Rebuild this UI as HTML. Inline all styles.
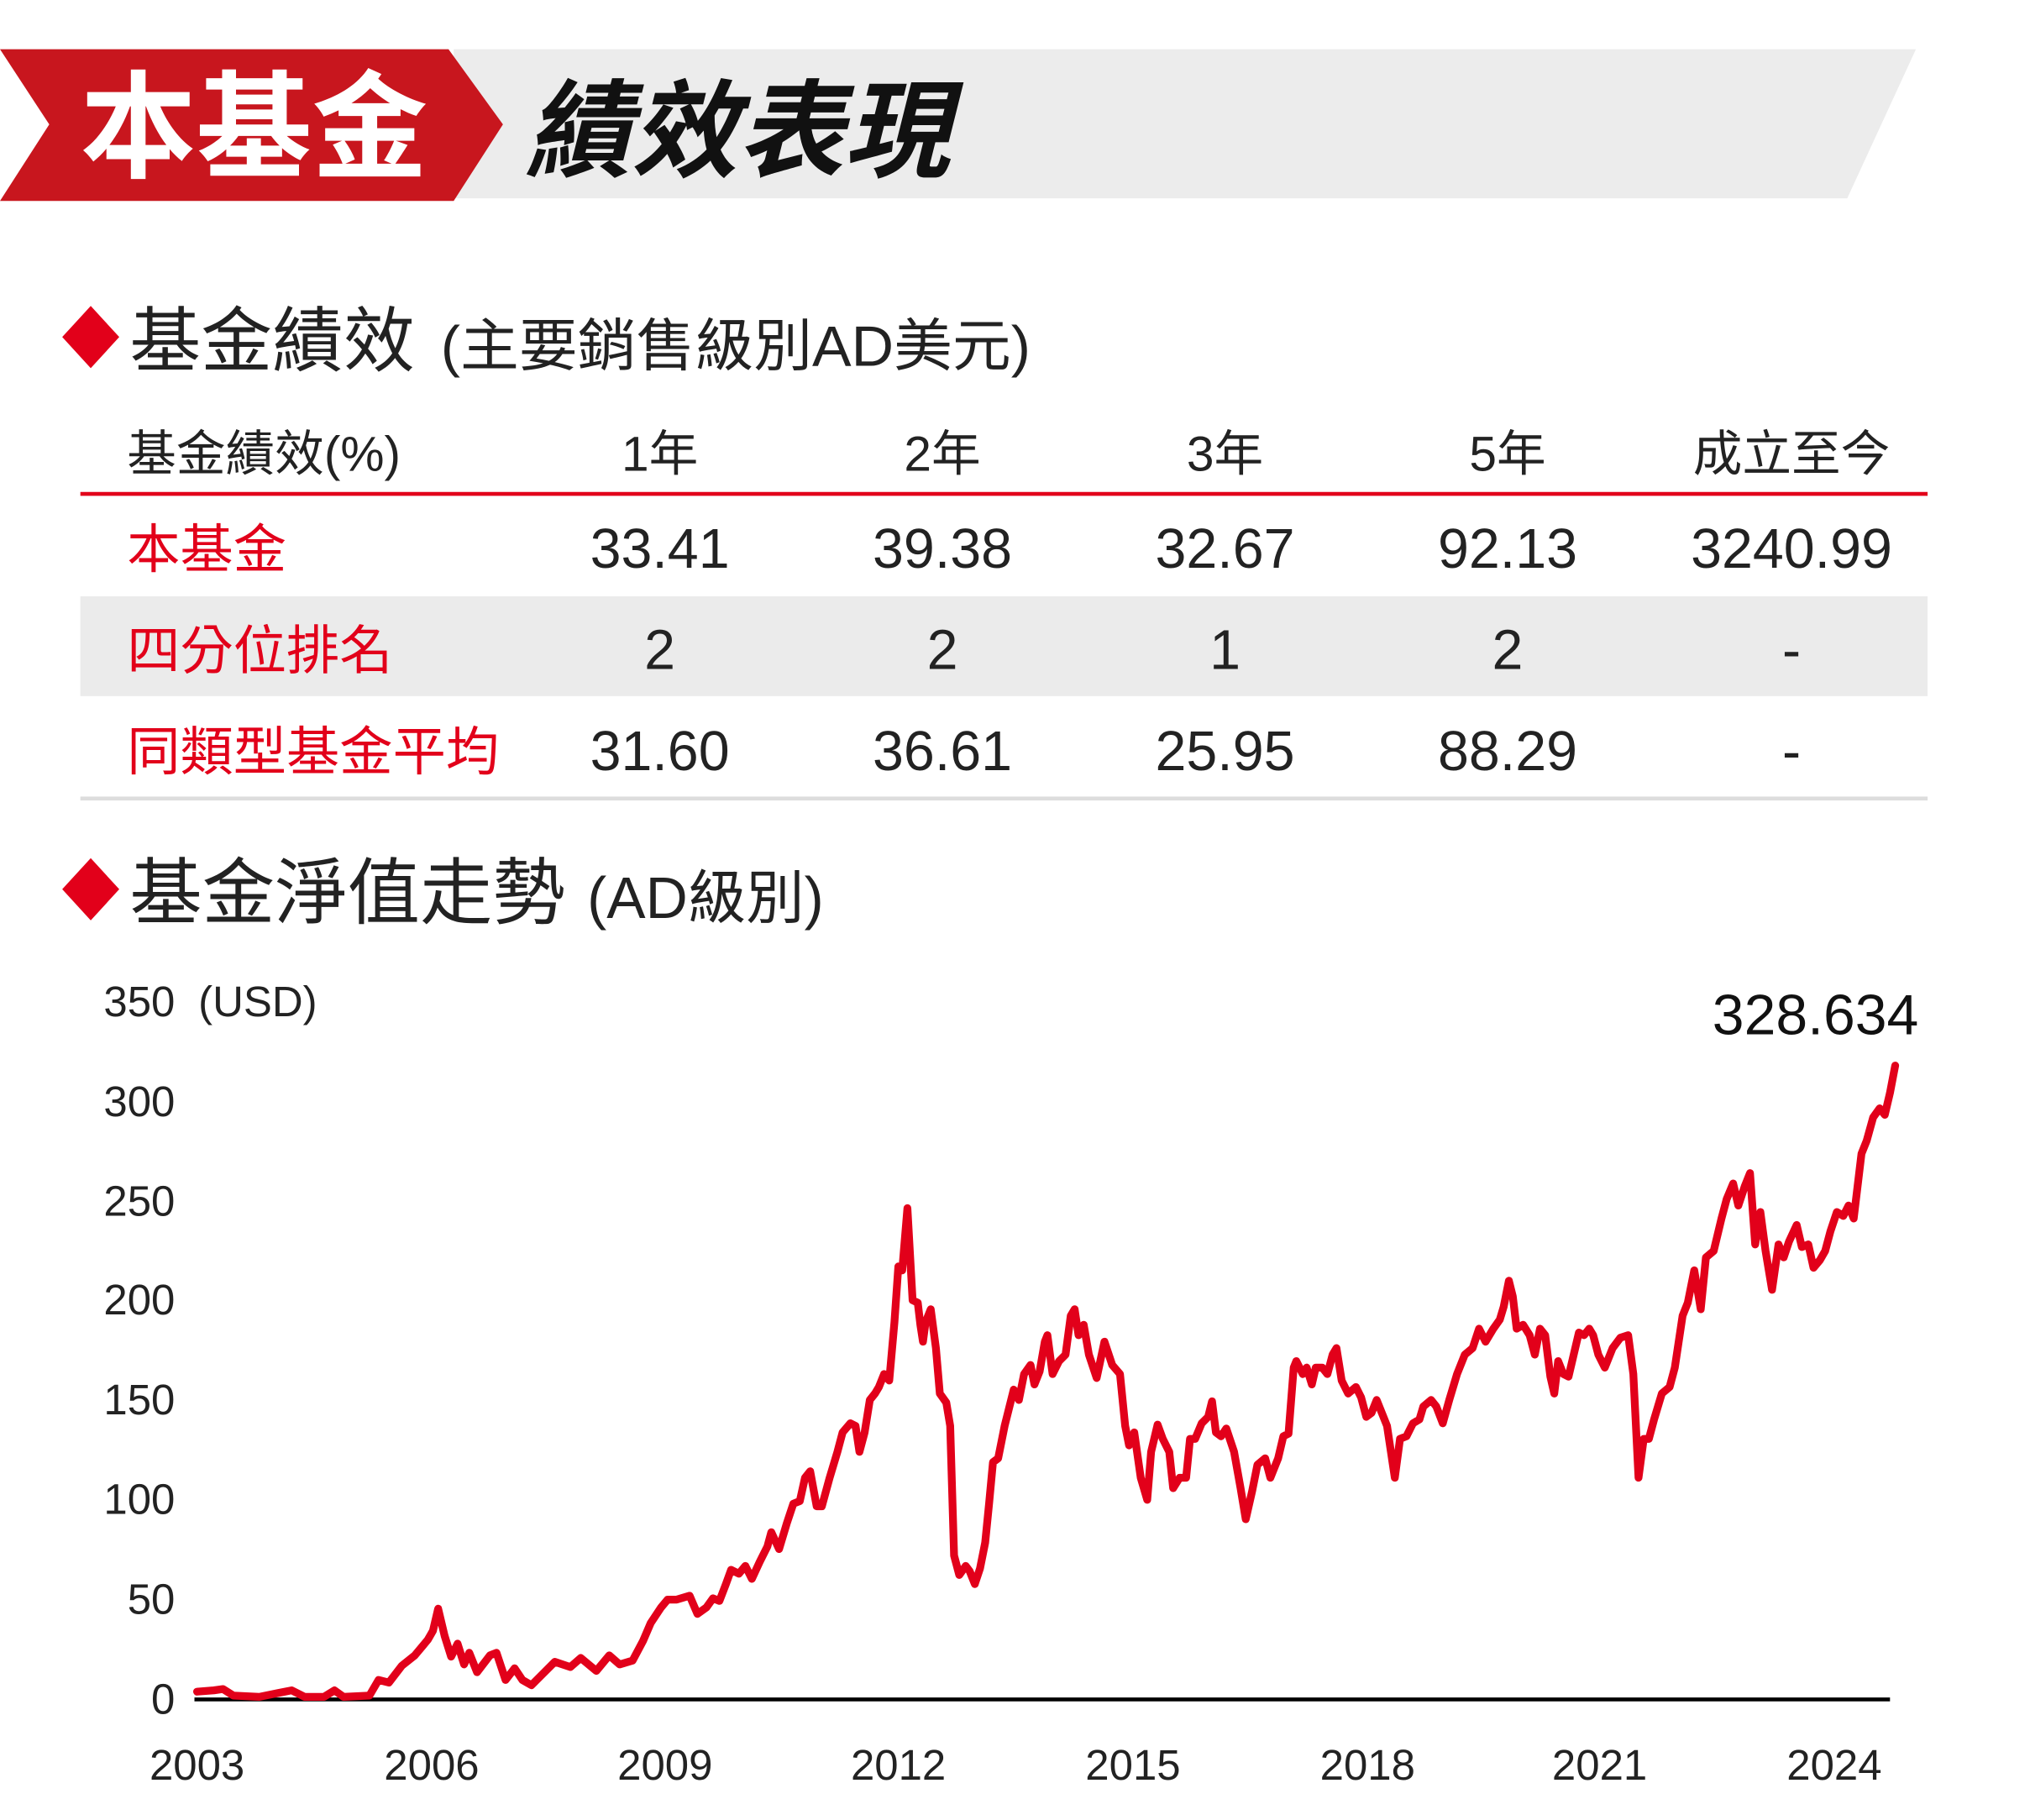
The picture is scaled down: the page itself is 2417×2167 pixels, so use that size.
<!DOCTYPE html>
<html><head><meta charset="utf-8"><style>
html,body{margin:0;padding:0;background:#fff;}
svg{display:block;}
text{font-family:"Liberation Sans","Noto Sans CJK TC",sans-serif;}
</style></head><body>
<svg width="2417" height="2167" viewBox="0 0 1566 1404" xmlns="http://www.w3.org/2000/svg">
<polygon points="350,38 1478,38 1425,153 350,153" fill="#ececec"/>
<polygon points="0,38 346,38 388,96 350,155 0,155 38,96" fill="#c8161e"/>
<text x="62" y="130" font-size="90" font-weight="bold" fill="#fff" textLength="268" lengthAdjust="spacingAndGlyphs">本基金</text>
<text x="405" y="130" font-size="82" font-weight="bold" font-style="italic" fill="#111">績效表現</text>

<polygon points="70,236 92,260 70,284 48,260" fill="#e2001a"/>
<text x="100" y="282" font-size="55" fill="#222">基金績效</text>
<text x="340" y="282" font-size="44" fill="#222" textLength="455" lengthAdjust="spacingAndGlyphs">(主要銷售級別AD美元)</text>

<g font-size="38" fill="#222" text-anchor="middle">
<text x="98" y="363" text-anchor="start">基金績效(%)</text>
<text x="509" y="363">1年</text><text x="727" y="363">2年</text><text x="945" y="363">3年</text><text x="1163" y="363">5年</text><text x="1382" y="363">成立至今</text>
</g>
<rect x="62" y="379.5" width="1425" height="3" fill="#e2001a"/>
<rect x="62" y="460" width="1425" height="77" fill="#ebebeb"/>
<rect x="62" y="614.5" width="1425" height="3" fill="#dddddd"/>
<g font-size="43" fill="#222" text-anchor="middle">
<text x="98" y="438" text-anchor="start" fill="#e2001a" font-size="41">本基金</text>
<text x="509" y="438">33.41</text><text x="727" y="438">39.38</text><text x="945" y="438">32.67</text><text x="1163" y="438">92.13</text><text x="1382" y="438">3240.99</text>
<text x="98" y="516" text-anchor="start" fill="#e2001a" font-size="41">四分位排名</text>
<text x="509" y="516">2</text><text x="727" y="516">2</text><text x="945" y="516">1</text><text x="1163" y="516">2</text><text x="1382" y="516">-</text>
<text x="98" y="594" text-anchor="start" fill="#e2001a" font-size="41">同類型基金平均</text>
<text x="509" y="594">31.60</text><text x="727" y="594">36.61</text><text x="945" y="594">25.95</text><text x="1163" y="594">88.29</text><text x="1382" y="594">-</text>
</g>

<polygon points="70,662 92,686 70,710 48,686" fill="#e2001a"/>
<text x="100" y="708" font-size="56" fill="#222">基金淨值走勢</text>
<text x="453" y="708" font-size="45" fill="#222">(AD級別)</text>

<g font-size="33" fill="#222" text-anchor="end">
<text x="135" y="784">350</text><text x="135" y="861">300</text><text x="135" y="938">250</text><text x="135" y="1014">200</text><text x="135" y="1091">150</text><text x="135" y="1168">100</text><text x="135" y="1245">50</text><text x="135" y="1322">0</text>
</g>
<text x="153" y="784" font-size="33" fill="#222">(USD)</text>
<text x="1480" y="798" font-size="44" fill="#111" text-anchor="end">328.634</text>
<g font-size="33" fill="#222" text-anchor="middle">
<text x="152" y="1373">2003</text><text x="333" y="1373">2006</text><text x="513" y="1373">2009</text><text x="693" y="1373">2012</text><text x="874" y="1373">2015</text><text x="1055" y="1373">2018</text><text x="1234" y="1373">2021</text><text x="1415" y="1373">2024</text>
</g>
<line x1="150" y1="1311" x2="1458" y2="1311" stroke="#000" stroke-width="3"/>
<polyline fill="none" stroke="#e2001a" stroke-width="6" stroke-linejoin="round" stroke-linecap="round" points="152,1305 165,1304 172,1303 180,1308 200,1309 215,1306 225,1304 235,1309 250,1309 258,1304 265,1309 285,1308 292,1296 300,1298 310,1285 320,1277 330,1265 334,1258 338,1241 343,1262 348,1278 353,1268 358,1284 362,1275 368,1290 378,1277 383,1275 390,1296 397,1287 403,1296 410,1300 418,1292 428,1282 440,1286 448,1279 460,1289 470,1277 478,1284 488,1281 496,1266 502,1252 510,1240 515,1234 522,1234 532,1231 538,1245 545,1240 550,1233 555,1235 560,1222 564,1211 570,1214 575,1208 580,1218 586,1205 592,1193 595,1182 601,1195 607,1175 612,1160 617,1158 621,1140 625,1135 630,1162 634,1162 640,1140 646,1120 650,1105 656,1098 660,1100 663,1120 667,1105 671,1080 675,1075 678,1070 682,1060 686,1065 690,1020 693,977 696,980 700,932 704,1003 708,1005 710,1022 712,1035 714,1020 718,1010 722,1040 725,1075 730,1082 733,1100 736,1200 740,1215 745,1208 748,1212 752,1222 756,1210 760,1190 763,1160 766,1128 770,1125 775,1100 778,1088 782,1072 786,1080 790,1060 795,1053 798,1068 802,1058 806,1035 808,1030 812,1060 817,1050 822,1045 826,1015 829,1010 832,1030 836,1022 840,1045 846,1063 852,1035 858,1053 864,1060 868,1100 871,1115 875,1105 880,1140 885,1157 888,1120 893,1099 897,1110 902,1120 905,1148 910,1140 915,1140 918,1110 922,1110 927,1098 932,1093 935,1081 938,1105 942,1108 946,1102 952,1120 957,1148 961,1172 966,1150 970,1130 976,1125 980,1140 986,1125 990,1108 994,1106 998,1055 1000,1050 1005,1060 1008,1055 1012,1068 1015,1055 1020,1055 1024,1060 1028,1045 1031,1040 1035,1065 1040,1075 1046,1070 1050,1078 1054,1093 1058,1090 1062,1080 1066,1090 1070,1100 1076,1140 1080,1110 1085,1108 1090,1098 1095,1095 1098,1085 1104,1080 1108,1085 1113,1098 1118,1080 1124,1060 1130,1045 1136,1040 1141,1025 1146,1035 1152,1025 1157,1018 1160,1008 1164,988 1167,1000 1170,1025 1175,1022 1180,1030 1184,1045 1188,1025 1192,1030 1196,1062 1199,1075 1202,1050 1206,1060 1210,1062 1214,1045 1218,1028 1222,1030 1226,1025 1229,1030 1233,1045 1238,1055 1244,1040 1250,1032 1256,1030 1260,1060 1264,1140 1268,1110 1272,1110 1276,1095 1282,1075 1288,1070 1292,1055 1298,1015 1302,1005 1307,980 1312,1010 1316,970 1322,965 1328,940 1332,925 1337,913 1341,930 1346,915 1350,905 1354,960 1358,935 1362,965 1367,995 1372,960 1376,970 1380,958 1386,945 1390,962 1395,960 1399,978 1404,972 1408,965 1412,950 1417,935 1422,938 1426,930 1430,940 1436,890 1440,880 1445,862 1450,855 1454,860 1458,843 1462,822"/>
</svg>
</body></html>
